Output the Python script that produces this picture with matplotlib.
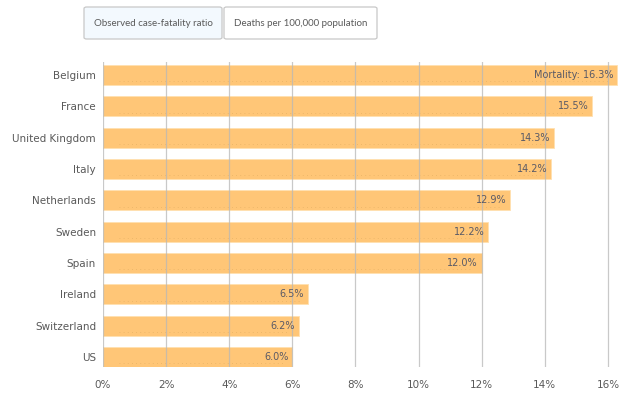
import matplotlib
matplotlib.use("Agg")
import matplotlib.pyplot as plt
from matplotlib.patches import FancyBboxPatch

countries = ["Belgium", "France", "United Kingdom", "Italy", "Netherlands",
             "Sweden", "Spain", "Ireland", "Switzerland", "US"]
mortality = [16.3, 15.5, 14.3, 14.2, 12.9, 12.2, 12.0, 6.5, 6.2, 6.0]
xticks = [0, 2, 4, 6, 8, 10, 12, 14, 16]
xticklabels = ["0%", "2%", "4%", "6%", "8%", "10%", "12%", "14%", "16%"]
buttons = ["Observed case-fatality ratio", "Deaths per 100,000 population"]

W, H = 642, 399
fig = plt.figure(figsize=(W / 100, H / 100), dpi=100)

px = 31.56  # pixels per 1%
left, top, bottom = 103, 62, 367
xmax = 16.6
ax = fig.add_axes([left / W, 1 - bottom / H, xmax * px / W, (bottom - top) / H])

bar_color = "#FFC677"
text_color = "#595959"
y = list(range(len(countries)))
ax.barh(y, mortality, height=0.64, color=bar_color, edgecolor="#ffe0b0",
        linewidth=0.6, zorder=1)
for yi, v in zip(y, mortality):
    ax.plot([0.5, v - 0.3], [yi + 0.2, yi + 0.2], linestyle=(0, (1, 4)),
            color="#d8a55a", linewidth=0.6, alpha=0.6, zorder=1.5)
    label = f"Mortality: {v:.1f}%" if yi == 0 else f"{v:.1f}%"
    ax.text(v - 0.12, yi, label, ha="right", va="center",
            fontsize=7, color="#5a5a66", zorder=3)

ax.set_xlim(0, xmax)
ax.set_ylim(9.32, -0.415)
ax.set_xticks(xticks)
ax.set_xticklabels(xticklabels, fontsize=7.5, color=text_color)
ax.set_yticks(y)
ax.set_yticklabels(countries, fontsize=7.5, color=text_color)
ax.tick_params(axis="both", length=0)
ax.tick_params(axis="x", pad=9)
ax.tick_params(axis="y", pad=5)
ax.grid(axis="x", color="#b8b8b8", linewidth=0.9, alpha=0.75, zorder=2)
ax.set_axisbelow(False)
for s in ax.spines.values():
    s.set_visible(False)

# Toggle buttons
boxes = [(84, 7, 138, 32, "#f3f9fe"), (224, 7, 153, 32, "#ffffff")]
for (bx, by, bw, bh, fc), txt in zip(boxes, buttons):
    p = FancyBboxPatch((bx / W, 1 - (by + bh) / H), bw / W, bh / H,
                       boxstyle="round,pad=0,rounding_size=0.004",
                       transform=fig.transFigure, facecolor=fc,
                       edgecolor="#c8c8c8", linewidth=0.9)
    fig.patches.append(p)
    fig.text((bx + bw / 2) / W, 1 - (by + bh / 2) / H, txt, ha="center",
             va="center", fontsize=7.0, color=text_color,
             family=["Lato", "DejaVu Sans"])

fig.savefig("out.png", dpi=100)
